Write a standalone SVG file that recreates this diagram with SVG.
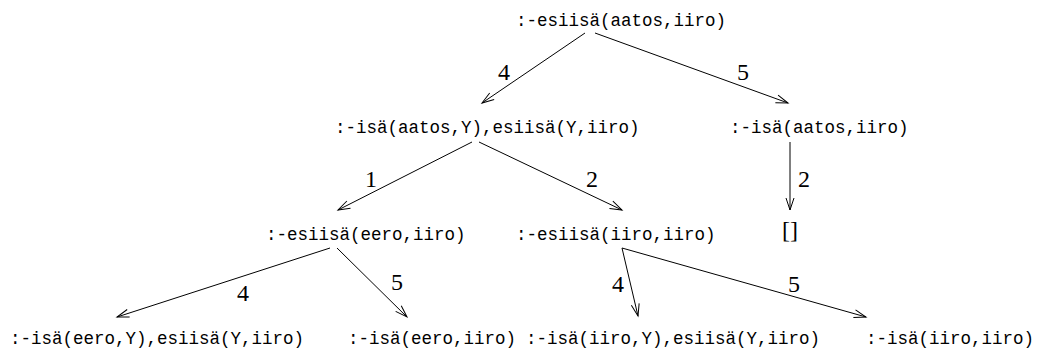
<svg xmlns="http://www.w3.org/2000/svg" width="1042" height="350" viewBox="0 0 1042 350">
<style>
.t{font-family:"Liberation Mono","DejaVu Sans Mono",monospace;font-size:17.5px;fill:#000}
.n{font-family:"Liberation Serif","Times New Roman",serif;font-size:24px;fill:#000}
.e{stroke:#000;stroke-width:1;fill:none;marker-end:url(#arr)}
</style>
<defs>
<marker id="arr" markerUnits="userSpaceOnUse" markerWidth="16" markerHeight="12" viewBox="-14 -6 16 12" refX="0" refY="0" orient="auto">
<path d="M-12,-4 L0,0 L-12,4" fill="none" stroke="#000" stroke-width="1"/>
</marker>
</defs>
<rect width="1042" height="350" fill="#fff"/>
<g id="n1"><text class="t" x="516" y="26">:-esiisä(aatos,iiro)</text></g>
<g id="n2"><text class="t" x="335" y="133">:-isä(aatos,Y),esiisä(Y,iiro)</text></g>
<g id="n3"><text class="t" x="730" y="133">:-isä(aatos,iiro)</text></g>
<g id="n4"><text class="t" x="266" y="240">:-esiisä(eero,iiro)</text></g>
<g id="n5"><text class="t" x="516" y="240">:-esiisä(iiro,iiro)</text></g>
<g id="n6"><text class="n" x="790" y="238" text-anchor="middle">[]</text></g>
<g id="n7"><text class="t" x="10" y="344">:-isä(eero,Y),esiisä(Y,iiro)</text></g>
<g id="n8"><text class="t" x="348" y="344">:-isä(eero,iiro)</text></g>
<g id="n9"><text class="t" x="526" y="344">:-isä(iiro,Y),esiisä(Y,iiro)</text></g>
<g id="n10"><text class="t" x="866" y="344">:-isä(iiro,iiro)</text></g>
<g id="connectors">
<line class="e" x1="585" y1="33" x2="482" y2="103"/>
<text class="n" x="498" y="80">4</text>
<line class="e" x1="595" y1="33" x2="788" y2="103"/>
<text class="n" x="737" y="80">5</text>
<line class="e" x1="472" y1="142" x2="338" y2="210"/>
<text class="n" x="365" y="187">1</text>
<line class="e" x1="479" y1="142" x2="622" y2="210"/>
<text class="n" x="586" y="187">2</text>
<line class="e" x1="790" y1="142" x2="790" y2="210"/>
<text class="n" x="798" y="187">2</text>
<line class="e" x1="330" y1="248" x2="117" y2="317"/>
<text class="n" x="237" y="301">4</text>
<line class="e" x1="337" y1="248" x2="407" y2="317"/>
<text class="n" x="391" y="290">5</text>
<line class="e" x1="622" y1="248" x2="638" y2="316"/>
<text class="n" x="612" y="292">4</text>
<line class="e" x1="622" y1="248" x2="866" y2="317"/>
<text class="n" x="788" y="292">5</text>
</g>
</svg>
